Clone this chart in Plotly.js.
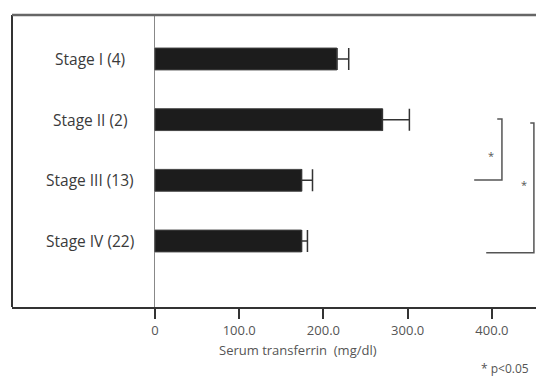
<!DOCTYPE html>
<html>
<head>
<meta charset="utf-8">
<script src="https://cdn.plot.ly/plotly-3.0.1.min.js"></script>
<style>html,body{margin:0;padding:0;background:#fff;}#chart{width:536px;height:376px;}</style>
</head>
<body>
<div id="chart"></div>
<script>
// Data
const categories = ["Stage I (4)", "Stage II (2)", "Stage III (13)", "Stage IV (22)"];
const transferrin = [216, 270, 174, 174];
const errorPlus = [14, 32, 13, 7];
const tickValues = [0, 100, 200, 300, 400];
const tickLabels = ["0", "100.0", "200.0", "300.0", "400.0"];
const xTitle = "Serum transferrin\u00a0 (mg/dl)";
const footnote = "* p<0.05";

const trace = {
  type: "bar",
  orientation: "h",
  y: categories,
  x: transferrin,
  width: 0.36,
  marker: {color: "#1c1c1c", line: {color: "#444", width: 1}},
  error_x: {
    type: "data", symmetric: false,
    array: errorPlus, arrayminus: categories.map(() => 0),
    width: 11, thickness: 1.5, color: "#333"
  },
  hoverinfo: "skip"
};

const labelFont = {family: "Open Sans, sans-serif", size: 15.5, color: "#3a3a3a"};
const annotations = categories.map(c => ({
  text: c, xref: "paper", yref: "y", x: 0.149, y: c,
  xanchor: "center", yanchor: "middle", showarrow: false, font: labelFont
}));
annotations.push({
  text: xTitle, xref: "paper", yref: "paper", x: (298 - 12) / 524, y: (307 - 350) / 292,
  xanchor: "center", yanchor: "middle", showarrow: false,
  font: {family: "Open Sans, sans-serif", size: 13, color: "#555"}
});
annotations.push({
  text: footnote, xref: "paper", yref: "paper", x: (530 - 12) / 524, y: (307 - 368) / 292,
  xanchor: "right", yanchor: "middle", showarrow: false, borderpad: 0,
  font: {family: "Open Sans, sans-serif", size: 12, color: "#555"}
});
annotations.push({
  text: "*", xref: "paper", yref: "paper", x: 0.914, y: 0.52,
  xanchor: "center", yanchor: "middle", showarrow: false,
  font: {family: "Open Sans, sans-serif", size: 11, color: "#555"}
});
annotations.push({
  text: "*", xref: "paper", yref: "paper", x: 0.978, y: 0.421,
  xanchor: "center", yanchor: "middle", showarrow: false,
  font: {family: "Open Sans, sans-serif", size: 11, color: "#555"}
});

const bl = {color: "#555", width: 1.5};
const shapes = [
  // frame left and top
  {type: "line", xref: "paper", yref: "paper", x0: 0, x1: 0, y0: 0, y1: 1, line: {color: "#333", width: 2}},
  {type: "line", xref: "paper", yref: "paper", x0: 0, x1: 1, y0: 1, y1: 1, line: {color: "#666", width: 2.5}},
  // bracket 1
  {type: "path", xref: "paper", yref: "paper",
   path: "M 0.926 0.644 L 0.935 0.644 L 0.935 0.435 L 0.882 0.435", line: bl},
  // bracket 2
  {type: "path", xref: "paper", yref: "paper",
   path: "M 0.989 0.630 L 0.996 0.630 L 0.996 0.186 L 0.905 0.186", line: bl}
];

const layout = {
  width: 536, height: 376,
  margin: {l: 12, r: 0, t: 15, b: 69},
  paper_bgcolor: "#fff", plot_bgcolor: "#fff",
  showlegend: false,
  xaxis: {
    range: [-169.7, 452.3],
    showgrid: false,
    zeroline: true, zerolinecolor: "#888", zerolinewidth: 1,
    showline: true, linecolor: "#333", linewidth: 2,
    ticks: "outside", ticklen: 10, tickwidth: 2, tickcolor: "#333",
    tickvals: tickValues, ticktext: tickLabels,
    tickfont: {family: "Open Sans, sans-serif", size: 13, color: "#555"},
    fixedrange: true
  },
  yaxis: {
    type: "category",
    range: [4.088, -0.725],
    showgrid: false, zeroline: false, showline: false,
    showticklabels: false, ticks: "",
    fixedrange: true
  },
  annotations: annotations,
  shapes: shapes
};

Plotly.newPlot("chart", [trace], layout, {displayModeBar: false, staticPlot: true});
</script>
</body>
</html>
